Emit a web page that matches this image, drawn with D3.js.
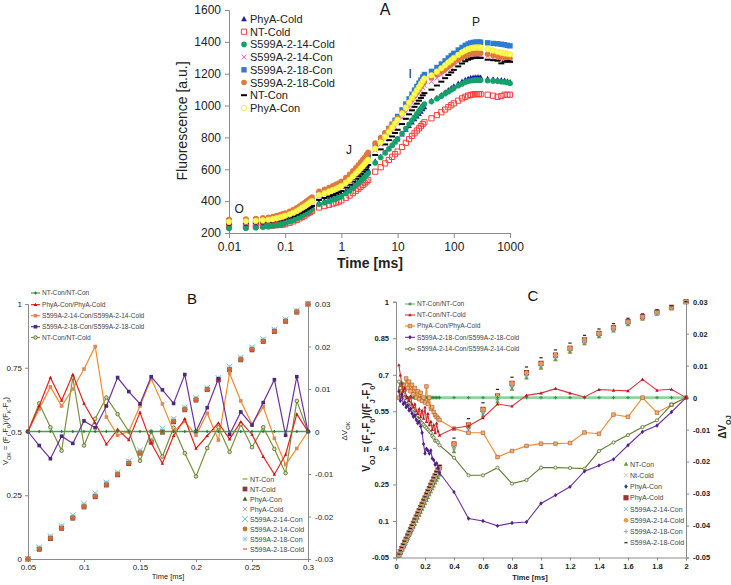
<!DOCTYPE html>
<html><head><meta charset="utf-8">
<script src="https://cdn.jsdelivr.net/npm/d3@7"></script>
<style>body{margin:0;background:#fff} svg{display:block;font-family:"Liberation Sans",Arial,sans-serif}</style>
</head><body><svg id="c" width="731" height="585"></svg>
<script>
// ---------------- Panel A data ----------------
const timeA = [0.01,0.02,0.03,0.04,0.05,0.06,0.07,0.08,0.09,0.1,0.12,0.14,0.16,0.18,0.2,0.22,0.24,0.26,0.28,0.3,0.4,0.5,0.6,0.7,0.8,0.9,1,1.2,1.4,1.6,1.8,2,2.2,2.4,2.6,2.8,3,4,5,6,7,8,9,10,12,14,16,18,20,22,24,26,28,30,40,50,60,70,80,90,100,120,140,160,180,200,220,240,260,280,300,400,500,600,700,800,900,1000];
const fPhyACold = [250,252,254,256,259,262,265,268,271,275,283,292,301,309,318,326,334,341,349,355,392,403,412,420,428,435,444,463,480,499,515,530,544,558,570,583,595,650,681,707,731,752,771,789,820,849,873,895,915,933,949,963,978,990,1030,1049,1067,1083,1098,1110,1122,1138,1151,1162,1169,1174,1176,1178,1178,1178,1177,1168,1165,1162,1160,1158,1152,1148];
const fNTCold = [240,241,242,244,245,247,249,251,253,255,264,273,282,292,301,309,318,326,333,340,360,369,377,384,390,397,405,421,435,451,465,478,490,501,512,523,533,585,613,637,659,678,695,711,740,766,789,809,826,843,857,871,884,895,920,940,958,975,990,1002,1014,1031,1045,1055,1063,1067,1070,1072,1072,1072,1071,1068,1062,1055,1060,1068,1068,1068];
const f14Cold = [228,230,233,236,240,244,248,252,257,262,271,280,290,300,310,318,327,335,343,350,380,390,399,407,414,422,431,449,465,483,499,513,527,540,552,565,576,640,674,703,728,751,772,791,825,856,883,907,928,947,965,981,997,1010,1025,1043,1059,1074,1087,1098,1109,1124,1136,1147,1152,1156,1158,1160,1160,1160,1159,1156,1155,1152,1150,1148,1145,1140];
const f14Con = [265,268,271,274,278,282,287,292,297,303,312,322,331,341,351,360,369,377,385,392,430,442,453,463,471,480,491,513,532,553,573,590,606,622,636,651,665,720,757,789,818,842,865,886,924,958,988,1015,1038,1059,1078,1096,1113,1128,1150,1172,1193,1211,1228,1242,1255,1274,1289,1301,1310,1315,1318,1320,1320,1320,1319,1310,1300,1295,1290,1285,1280,1283];
const f18Con = [275,278,281,284,288,292,297,301,306,312,322,332,343,353,364,373,383,392,400,408,445,457,468,478,486,495,506,528,547,568,588,605,621,637,651,667,680,750,790,825,856,883,908,932,973,1010,1042,1071,1097,1120,1141,1160,1179,1195,1215,1239,1261,1281,1299,1314,1328,1349,1365,1378,1387,1393,1396,1398,1398,1398,1398,1394,1390,1388,1385,1382,1378,1375];
const f18Cold = [285,288,291,295,299,304,309,314,320,326,336,347,358,369,380,390,400,409,418,426,462,475,486,496,505,514,525,548,568,590,610,628,645,661,676,692,706,765,800,830,857,880,902,922,958,990,1018,1043,1065,1085,1103,1120,1136,1150,1175,1195,1213,1230,1245,1258,1270,1288,1302,1312,1319,1324,1327,1329,1330,1330,1329,1322,1315,1310,1305,1300,1298,1295];
const fNTCon = [260,262,265,267,270,274,278,281,286,290,298,307,316,324,333,341,349,356,364,370,408,420,429,438,447,455,464,485,503,523,541,557,572,587,600,615,627,690,725,756,783,806,828,848,884,917,945,970,992,1012,1031,1048,1064,1078,1100,1126,1150,1172,1192,1208,1224,1246,1264,1278,1288,1294,1298,1300,1300,1300,1299,1288,1285,1282,1265,1275,1280,1275];
const fPhyACon = [270,273,276,279,283,287,292,297,302,308,317,327,337,348,358,367,376,384,393,400,438,450,460,469,477,485,495,516,534,555,573,589,605,619,633,647,660,730,770,804,835,862,887,910,950,987,1019,1048,1073,1096,1116,1136,1154,1170,1190,1213,1234,1253,1271,1285,1299,1318,1334,1346,1355,1360,1363,1365,1365,1365,1364,1355,1345,1338,1332,1328,1325,1322];
const namesA = ["PhyA-Cold","NT-Cold","S599A-2-14-Cold","S599A-2-14-Con","S599A-2-18-Con","S599A-2-18-Cold","NT-Con","PhyA-Con"];
const ticksAY = [200,400,600,800,1000,1200,1400,1600];
const ticksAX = [0.01,0.1,1,10,100,1000];
const phaseLabels = ["O","J","I","P"];
const phaseAt = [[0.0151,325],[1.37,696],[16.7,1173],[248,1500]];

// ---------------- Panel B data ----------------
const timeB = [0.05,0.06,0.07,0.08,0.09,0.1,0.11,0.12,0.13,0.14,0.15,0.16,0.17,0.18,0.19,0.2,0.21,0.22,0.23,0.24,0.25,0.26,0.27,0.28,0.29,0.3];
const dB_NTNT = [0,0,0,0,0,0,0,0,0,0,0,0,0,0,0,0,0,0,0,0,0,0,0,0,0,0];
const dB_PhyA = [0,0.006,0.0127,0.0073,0.0134,0.0066,0.002,-0.003,0.0005,-0.002,0.0045,-0.0027,-0.0075,-0.001,0.003,-0.004,-0.001,0.002,-0.0018,0.0023,-0.0007,-0.0059,-0.0101,-0.0054,0.0041,0];
const dB_14 = [0,0.0053,0.0105,0.006,0.010,0.0147,0.020,0.0034,-0.0009,0.0,0.006,0.0124,0.0065,0.0,0.0024,-0.0009,0.0043,-0.002,0.0137,0.0072,0.0017,0.0058,-0.0016,-0.0078,-0.004,0];
const dB_18 = [0,-0.0033,-0.0064,-0.0011,-0.0028,0.0025,0.0009,0.006,0.0127,0.0094,0.0065,0.0129,0.0098,0.0066,0.0134,0.0,0.0056,0.0124,-0.0007,0.0046,0.0015,0.0068,0.0122,-0.0009,0.0129,0];
const dB_NTCold = [0,0.0066,0.001,-0.0045,0.0127,-0.0033,0.003,0.008,0.0041,0.0,-0.0069,0.0,-0.0059,0.0009,-0.0051,-0.0106,-0.0039,0.001,-0.0048,0.0017,-0.0037,0.001,-0.0041,-0.0098,0.0072,0];
const namesBLines = ["NT-Con/NT-Con","PhyA-Con/PhyA-Cold","S599A-2-14-Con/S599A-2-14-Cold","S599A-2-18-Con/S599A-2-18-Cold","NT-Con/NT-Cold"];
const vB_NTCon = [0,0.045,0.088,0.128,0.168,0.212,0.252,0.297,0.337,0.381,0.421,0.466,0.503,0.545,0.59,0.63,0.669,0.707,0.747,0.786,0.826,0.858,0.896,0.936,0.971,1];
const vB_NTCold = [0,0.038,0.08,0.12,0.16,0.204,0.244,0.29,0.33,0.374,0.415,0.458,0.497,0.538,0.585,0.623,0.664,0.702,0.742,0.781,0.82,0.853,0.892,0.932,0.968,1];
const vB_PhyACon = [0,0.042,0.085,0.125,0.165,0.21,0.25,0.296,0.335,0.38,0.42,0.465,0.502,0.544,0.59,0.629,0.668,0.707,0.746,0.786,0.826,0.858,0.897,0.937,0.972,1];
const vB_PhyACold = [0,0.041,0.084,0.124,0.164,0.209,0.249,0.295,0.334,0.379,0.419,0.464,0.501,0.543,0.589,0.628,0.667,0.706,0.745,0.785,0.825,0.857,0.896,0.936,0.971,1];
const vB_14Con = [0,0.046,0.09,0.13,0.172,0.217,0.258,0.3,0.34,0.384,0.426,0.47,0.512,0.55,0.595,0.632,0.671,0.71,0.755,0.79,0.83,0.862,0.9,0.94,0.975,1];
const vB_14Cold = [0,0.039,0.081,0.121,0.161,0.205,0.246,0.291,0.331,0.376,0.416,0.46,0.498,0.54,0.586,0.625,0.665,0.703,0.743,0.782,0.822,0.854,0.893,0.933,0.969,1];
const vB_18Con = [0,0.044,0.087,0.127,0.167,0.211,0.251,0.298,0.336,0.382,0.423,0.467,0.505,0.546,0.592,0.631,0.67,0.709,0.75,0.788,0.828,0.86,0.898,0.938,0.973,1];
const vB_18Cold = [0,0.036,0.078,0.118,0.158,0.202,0.242,0.288,0.328,0.372,0.412,0.456,0.495,0.536,0.582,0.621,0.662,0.7,0.74,0.779,0.818,0.851,0.889,0.929,0.965,0.997];
const namesBPts = ["NT-Con","NT-Cold","PhyA-Con","PhyA-Cold","S599A-2-14-Con","S599A-2-14-Cold","S599A-2-18-Con","S599A-2-18-Cold"];
const ticksBL = [0,0.25,0.5,0.75,1];
const ticksBR = [-0.03,-0.02,-0.01,0,0.01,0.02,0.03];
const ticksBX = [0.05,0.1,0.15,0.2,0.25,0.3];

// ---------------- Panel C data ----------------
const timeC = [0.02,0.03,0.04,0.05,0.06,0.07,0.08,0.09,0.1,0.11,0.12,0.13,0.14,0.15,0.16,0.17,0.18,0.19,0.2,0.21,0.22,0.23,0.24,0.25,0.26,0.27,0.28,0.29,0.3,0.4,0.5,0.6,0.7,0.8,0.9,1.0,1.1,1.2,1.3,1.4,1.5,1.6,1.7,1.8,1.9,2.0];
const dC_NTNT = [0,0,0,0,0,0,0,0,0,0,0,0,0,0,0,0,0,0,0,0,0,0,0,0,0,0,0,0,0,0,0,0,0,0,0,0,0,0,0,0,0,0,0,0,0,0];
const dC_NTCold = [0.0102,0.007,0.0045,0.002,0.003,0.0005,0.0,-0.001,0.0005,-0.002,-0.003,-0.002,-0.004,-0.005,-0.0035,-0.006,-0.004,-0.0065,-0.003,-0.0075,-0.005,-0.0085,-0.0075,-0.01,-0.0085,-0.011,-0.008,-0.0105,-0.0118,-0.0096,-0.0089,-0.0063,-0.002,-0.0027,0.0007,0.0014,0.0028,0.0014,0.0002,0.0025,0.0023,0.0021,0.0057,0.0023,0.0026,0];
const dC_PhyA = [0.0,0.003,0.001,0.004,0.0025,0.006,0.003,0.005,0.002,0.004,0.001,0.003,0.0,0.002,-0.0005,0.0015,-0.001,0.0,-0.0015,0.0035,-0.002,0.0,-0.0035,-0.003,-0.0045,-0.0055,-0.006,-0.0065,-0.007,-0.0097,-0.011,-0.011,-0.0186,-0.0167,-0.0151,-0.0144,-0.0144,-0.0142,-0.0109,-0.0113,-0.0053,-0.006,0,-0.0047,-0.0022,0];
const dC_18 = [0.002,-0.001,0.001,-0.002,-0.0015,-0.003,-0.0025,-0.004,-0.0035,-0.005,-0.006,-0.0055,-0.007,-0.008,-0.0075,-0.009,-0.011,-0.0145,-0.0175,-0.016,-0.0165,-0.0175,-0.0165,-0.019,-0.0195,-0.021,-0.0205,-0.022,-0.0235,-0.0295,-0.0378,-0.0386,-0.0401,-0.0392,-0.0389,-0.0331,-0.0305,-0.0279,-0.023,-0.0212,-0.0193,-0.0149,-0.0107,-0.0087,-0.0045,0];
const dC_14 = [0.005,0.003,0.0045,0.001,0.0,-0.001,-0.002,-0.0015,-0.003,-0.004,-0.0035,-0.005,-0.006,-0.0055,-0.007,-0.0075,-0.008,-0.0085,-0.009,-0.0095,-0.01,-0.0105,-0.011,-0.012,-0.0125,-0.0135,-0.0135,-0.014,-0.0149,-0.0188,-0.0243,-0.0243,-0.0219,-0.0269,-0.0258,-0.0219,-0.0219,-0.022,-0.0222,-0.0167,-0.014,-0.0117,-0.0092,-0.0071,-0.0022,0];
const namesCLines = ["NT-Con/NT-Con","NT-Con/NT-Cold","PhyA-Con/PhyA-Cold","S599A-2-18-Con/S599A-2-18-Cold","S599A-2-14-Con/S599A-2-14-Cold"];
const vC_base = [-0.04,-0.027,-0.014,-0.001,0.012,0.025,0.038,0.051,0.064,0.077,0.09,0.103,0.116,0.129,0.142,0.155,0.168,0.181,0.194,0.207,0.22,0.233,0.246,0.259,0.272,0.285,0.297,0.309,0.321,0.416,0.494,0.558,0.613,0.665,0.709,0.747,0.781,0.809,0.843,0.87,0.893,0.918,0.938,0.957,0.977,1.0];
const vC_NTCon = [-0.043,-0.031,-0.019,-0.007,0.005,0.017,0.029,0.041,0.053,0.065,0.077,0.089,0.101,0.113,0.125,0.137,0.149,0.161,0.173,0.185,0.197,0.209,0.221,0.233,0.245,0.257,0.268,0.279,0.29,0.385,0.466,0.532,0.59,0.642,0.688,0.728,0.763,0.794,0.829,0.857,0.881,0.907,0.929,0.95,0.971,0.998];
const vC_18Cold = [-0.036,-0.022,-0.009,0.004,0.017,0.03,0.043,0.056,0.069,0.082,0.095,0.108,0.121,0.134,0.147,0.16,0.173,0.186,0.199,0.212,0.225,0.238,0.251,0.264,0.277,0.29,0.302,0.314,0.327,0.44,0.52,0.585,0.64,0.69,0.732,0.77,0.802,0.83,0.862,0.888,0.91,0.932,0.95,0.967,0.983,1.0];
const vC_18Con = [-0.042,-0.029,-0.016,-0.003,0.009,0.022,0.035,0.048,0.061,0.074,0.087,0.1,0.113,0.126,0.139,0.151,0.164,0.177,0.19,0.203,0.216,0.229,0.242,0.254,0.267,0.28,0.292,0.304,0.316,0.4,0.48,0.545,0.6,0.652,0.698,0.737,0.772,0.801,0.836,0.864,0.888,0.913,0.934,0.954,0.975,0.999];
const namesCPts = ["NT-Con","Nt-Cold","PhyA-Con","PhyA-Cold","S599A-2-14-Con","S599A-2-14-Cold","S599A-2-18-Con","S599A-2-18-Cold"];
const ticksCL = [-0.05,0.1,0.25,0.4,0.55,0.7,0.85,1];
const ticksCR = [-0.05,-0.04,-0.03,-0.02,-0.01,0,0.01,0.02,0.03];
const ticksCX = [0,0.2,0.4,0.6,0.8,1,1.2,1.4,1.6,1.8,2];

// ---------------- helpers ----------------
const svg = d3.select('#c');
function symPath(type, s){
  switch(type){
    case 'square': return `M${-s},${-s}h${2*s}v${2*s}h${-2*s}Z`;
    case 'circle': return d3.symbol(d3.symbolCircle, Math.PI*s*s)();
    case 'triangle': return `M0,${-s*1.15}L${s*1.1},${s*0.85}L${-s*1.1},${s*0.85}Z`;
    case 'diamond': return `M0,${-s*1.3}L${s},0L0,${s*1.3}L${-s},0Z`;
    case 'x': return `M${-s},${-s}L${s},${s}M${-s},${s}L${s},${-s}`;
    case 'plus': return `M${-s},0H${s}M0,${-s}V${s}`;
    case 'star': return `M${-s},${-s}L${s},${s}M${-s},${s}L${s},${-s}M${-s*1.2},0H${s*1.2}M0,${-s*1.2}V${s*1.2}`;
    case 'dash': return `M${-s},0H${s}`;
  }
}
const strokeOnly = t => ['x','plus','star','dash'].includes(t);
function drawPts(g, xs, ys, xsc, ysc, st){
  g.append('g').selectAll('path').data(xs.map((x,i)=>[x,ys[i]])).join('path')
    .attr('transform', d=>`translate(${xsc(d[0])},${ysc(d[1])})`)
    .attr('d', symPath(st.type, st.size))
    .attr('fill', strokeOnly(st.type)? 'none' : (st.fill||st.color))
    .attr('stroke', strokeOnly(st.type)? st.color : (st.stroke||'none'))
    .attr('stroke-width', st.sw || 1);
}
function legendMark(g, x, y, st){
  g.append('path').attr('transform',`translate(${x},${y})`).attr('d', symPath(st.type, st.size))
    .attr('fill', strokeOnly(st.type)? 'none' : (st.fill||st.color))
    .attr('stroke', strokeOnly(st.type)? st.color : (st.stroke||'none'))
    .attr('stroke-width', st.sw || 1);
}
const fmt = d => String(+(+d).toFixed(3));
function styleAxis(sel, fs, weight){
  sel.select('.domain').attr('stroke','#8a8a8a');
  sel.selectAll('.tick line').attr('stroke','#8a8a8a');
  sel.selectAll('.tick text').attr('font-size',fs).attr('fill','#222').attr('font-weight',weight||'normal')
    .attr('font-family','"Liberation Sans",Arial,sans-serif');
}
function subText(g, x, y, parts, fs, weight, rotate){
  const t = g.append('text').attr('transform',`translate(${x},${y})${rotate?' rotate(-90)':''}`)
    .attr('text-anchor','middle').attr('font-size',fs).attr('font-weight',weight||'normal').attr('fill','#222');
  parts.forEach(p=>{
    if(typeof p === 'string') t.append('tspan').text(p);
    else t.append('tspan').attr('baseline-shift','sub').attr('font-size',fs*0.72).text(p.sub);
  });
  return t;
}

// ---------------- Panel A ----------------
{
  const g = svg.append('g');
  const x = d3.scaleLog().domain([0.01,1000]).range([229,510]);
  const y = d3.scaleLinear().domain([200,1600]).range([233,10]);
  g.append('g').attr('transform','translate(229,0)')
    .call(d3.axisLeft(y).tickValues(ticksAY).tickSize(4).tickPadding(4).tickFormat(fmt))
    .call(s=>styleAxis(s,12));
  g.append('g').attr('transform','translate(0,233)')
    .call(d3.axisBottom(x).tickValues(ticksAX).tickSize(5).tickPadding(4).tickFormat(fmt))
    .call(s=>styleAxis(s,12));
  const seriesA = [
    {v:fPhyACold, st:{type:'triangle', size:2.6, color:'#1c1c9c'}},
    {v:fNTCold, st:{type:'square', size:2.6, fill:'none', stroke:'#ff3b3b', sw:1}},
    {v:f14Cold, st:{type:'circle', size:2.8, color:'#16a06a'}},
    {v:f14Con, st:{type:'x', size:2.4, color:'#ff5ccd', sw:1}},
    {v:f18Con, st:{type:'square', size:2.7, color:'#2f7bd3'}},
    {v:f18Cold, st:{type:'circle', size:2.8, color:'#e07a3a'}},
    {v:fNTCon, st:{type:'dash', size:3, color:'#000', sw:2}},
    {v:fPhyACon, st:{type:'circle', size:2.8, fill:'#ffff50', stroke:'#efe63a', sw:0.7}}
  ];
  seriesA.forEach(s=>drawPts(g, timeA, s.v, x, y, s.st));
  seriesA.forEach((s,i)=>{
    const ly = 19 + i*12.7;
    const lst = Object.assign({}, s.st);
    if(i===7){ lst.fill='none'; lst.stroke='#f2ec55'; lst.sw=1; }
    legendMark(g, 244, ly, lst);
    g.append('text').attr('x',250).attr('y',ly+4).attr('font-size',11).attr('fill','#222').text(namesA[i]);
  });
  phaseLabels.forEach((l,i)=>g.append('text').attr('x',x(phaseAt[i][0])).attr('y',y(phaseAt[i][1]))
    .attr('text-anchor','middle').attr('font-size',12).attr('fill','#222').text(l));
  g.append('text').attr('transform','translate(187,121) rotate(-90)').attr('text-anchor','middle')
    .attr('font-size',14).attr('fill','#222').text('Fluorescence [a.u.]');
  g.append('text').attr('x',370).attr('y',268).attr('text-anchor','middle').attr('font-size',14)
    .attr('font-weight','bold').attr('fill','#222').text('Time [ms]');
  g.append('text').attr('x',385).attr('y',15).attr('text-anchor','middle').attr('font-size',16).attr('fill','#111').text('A');
}

// ---------------- Panel B ----------------
{
  const g = svg.append('g');
  const x = d3.scaleLinear().domain([0.05,0.3]).range([28,308]);
  const yL = d3.scaleLinear().domain([0,1]).range([559,304]);
  const yR = d3.scaleLinear().domain([-0.03,0.03]).range([559,304]);
  g.append('g').attr('transform','translate(28,0)')
    .call(d3.axisLeft(yL).tickValues(ticksBL).tickSize(3).tickPadding(3).tickFormat(fmt)).call(s=>styleAxis(s,8));
  g.append('g').attr('transform','translate(308,0)')
    .call(d3.axisRight(yR).tickValues(ticksBR).tickSize(3).tickPadding(4).tickFormat(fmt)).call(s=>styleAxis(s,8));
  g.append('g').attr('transform','translate(0,559)')
    .call(d3.axisBottom(x).tickValues(ticksBX).tickSize(3).tickPadding(2).tickFormat(fmt)).call(s=>styleAxis(s,8));
  const pts = [
    {v:vB_NTCon, st:{type:'dash', size:2.5, color:'#9bbb59', sw:1.5}},
    {v:vB_PhyACon, st:{type:'triangle', size:2.2, color:'#4f6228'}},
    {v:vB_PhyACold, st:{type:'x', size:2.2, color:'#9a9a9a', sw:0.8}},
    {v:vB_14Con, st:{type:'x', size:2.8, color:'#70c8d8', sw:1}},
    {v:vB_18Con, st:{type:'star', size:2.2, color:'#9dc3e6', sw:0.8}},
    {v:vB_NTCold, st:{type:'square', size:2.4, color:'#8b3a3a'}},
    {v:vB_14Cold, st:{type:'circle', size:2.4, color:'#c0793a'}},
    {v:vB_18Cold, st:{type:'dash', size:2, color:'#e0553a', sw:1.2}}
  ];
  pts.forEach(p=>drawPts(g, timeB, p.v, x, yL, p.st));
  const legOrder = [0,5,1,2,3,6,4,7];
  legOrder.forEach((idx,i)=>{
    const ly = 479 + i*10;
    legendMark(g, 245, ly, pts[idx].st);
    g.append('text').attr('x',250).attr('y',ly+2.5).attr('font-size',7).attr('fill','#444').text(namesBPts[i]);
  });
  const lines = [
    {v:dB_NTNT, color:'#3aa845', w:1.6, st:{type:'diamond', size:1.4, color:'#2d7a34'}},
    {v:dB_PhyA, color:'#e8201f', w:1.2, st:{type:'triangle', size:1.6, color:'#c0161a'}},
    {v:dB_14, color:'#f28a2a', w:1.2, st:{type:'square', size:1.8, color:'#d98c5a'}},
    {v:dB_18, color:'#7030a0', w:1.2, st:{type:'square', size:1.8, color:'#4b2a7b'}},
    {v:dB_NTCold, color:'#77933c', w:1.2, st:{type:'circle', size:1.8, fill:'#cfe0a8', stroke:'#4f6228', sw:0.8}}
  ];
  [4,2,1,3,0].forEach(i=>{
    const l = lines[i];
    g.append('path').datum(timeB.map((t,k)=>[t,l.v[k]]))
      .attr('d', d3.line().x(d=>x(d[0])).y(d=>yR(d[1])))
      .attr('fill','none').attr('stroke',l.color).attr('stroke-width',l.w);
    drawPts(g, timeB, l.v, x, yR, l.st);
  });
  lines.forEach((l,i)=>{
    const ly = [293,304.7,315.7,326.7,337.5][i];
    g.append('line').attr('x1',31).attr('x2',40).attr('y1',ly).attr('y2',ly).attr('stroke',l.color).attr('stroke-width',1.2);
    legendMark(g, 35.5, ly, l.st);
    g.append('text').attr('x',42).attr('y',ly+2.3).attr('font-size',6.6).attr('fill','#444').text(namesBLines[i]);
  });
  subText(g, 8, 431, ['V',{sub:'OK'},' = (F',{sub:'t'},'-F',{sub:'0'},')/(F',{sub:'K'},'-F',{sub:'0'},')'], 7.5, 'normal', true);
  subText(g, 347, 431, ['ΔV',{sub:'OK'}], 8, 'normal', true);
  g.append('text').attr('x',168).attr('y',579).attr('text-anchor','middle').attr('font-size',7.5).attr('fill','#222').text('Time [ms]');
  g.append('text').attr('x',192).attr('y',304).attr('text-anchor','middle').attr('font-size',15).attr('fill','#111').text('B');
}

// ---------------- Panel C ----------------
{
  const g = svg.append('g');
  const x = d3.scaleLinear().domain([0,2]).range([396,686]);
  const yL = d3.scaleLinear().domain([-0.05,1]).range([557.5,301.7]);
  const yR = d3.scaleLinear().domain([-0.05,0.03]).range([557.5,301.7]);
  g.append('g').attr('transform','translate(396,0)')
    .call(d3.axisLeft(yL).tickValues(ticksCL).tickSize(3).tickPadding(4).tickFormat(fmt)).call(s=>styleAxis(s,7.5,'bold'));
  g.append('g').attr('transform','translate(686,0)')
    .call(d3.axisRight(yR).tickValues(ticksCR).tickSize(3).tickPadding(4).tickFormat(fmt)).call(s=>styleAxis(s,7.5,'bold'));
  g.append('g').attr('transform','translate(0,557.5)')
    .call(d3.axisBottom(x).tickValues(ticksCX).tickSize(3).tickPadding(3).tickFormat(fmt)).call(s=>styleAxis(s,7.5,'bold'));
  const pts = [
    {v:vC_NTCon, st:{type:'triangle', size:2.1, color:'#77933c'}},
    {v:vC_base, st:{type:'x', size:2, color:'#bdbdbd', sw:0.8}},
    {v:vC_18Con, st:{type:'diamond', size:1.8, color:'#1f3f7f'}},
    {v:vC_base, st:{type:'square', size:2.6, color:'#953735'}},
    {v:vC_18Con, st:{type:'x', size:2.2, color:'#8fd0e0', sw:1}},
    {v:vC_base, st:{type:'circle', size:2.2, color:'#f79646'}},
    {v:vC_18Con, st:{type:'plus', size:2.2, color:'#9aa88a', sw:0.9}},
    {v:vC_18Cold, st:{type:'dash', size:1.6, color:'#222', sw:1.2}}
  ];
  pts.forEach(p=>drawPts(g, timeC, p.v, x, yL, p.st));
  pts.forEach((p,i)=>{
    const ly = 464 + i*11.25;
    legendMark(g, 626, ly, p.st);
    g.append('text').attr('x',630).attr('y',ly+2.6).attr('font-size',7).attr('fill','#444').text(namesCPts[i]);
  });
  const lines = [
    {v:dC_NTNT, color:'#8fd49a', w:2.6, st:{type:'plus', size:1.8, color:'#2d8a3e', sw:0.9}},
    {v:dC_NTCold, color:'#e0323a', w:1.1, st:{type:'triangle', size:1.6, color:'#b01c24'}},
    {v:dC_PhyA, color:'#f08a2a', w:1.1, st:{type:'square', size:1.8, fill:'#f5b070', stroke:'#a0582a', sw:0.6}},
    {v:dC_18, color:'#7030a0', w:1.1, st:{type:'diamond', size:1.7, color:'#50208a'}},
    {v:dC_14, color:'#5b7a2e', w:1.1, st:{type:'circle', size:1.6, fill:'#e8f0d8', stroke:'#4f6228', sw:0.7}}
  ];
  [0,2,4,3,1].forEach(i=>{
    const l = lines[i];
    g.append('path').datum(timeC.map((t,k)=>[t,l.v[k]]))
      .attr('d', d3.line().x(d=>x(d[0])).y(d=>yR(d[1])))
      .attr('fill','none').attr('stroke',l.color).attr('stroke-width',l.w);
    drawPts(g, timeC, l.v, x, yR, l.st);
  });
  lines.forEach((l,i)=>{
    const ly = [304,315,326,337.3,349][i];
    g.append('line').attr('x1',405).attr('x2',415).attr('y1',ly).attr('y2',ly).attr('stroke',l.color).attr('stroke-width',Math.min(l.w,1.6));
    legendMark(g, 410, ly, l.st);
    g.append('text').attr('x',417).attr('y',ly+2.3).attr('font-size',6.6).attr('fill','#444').text(namesCLines[i]);
  });
  subText(g, 370, 427, ['V',{sub:'OJ'},' = (F',{sub:'t'},'-F',{sub:'0'},')/(F',{sub:'J'},'-F',{sub:'0'},')'], 10, 'bold', true);
  subText(g, 726, 427, ['ΔV',{sub:'OJ'}], 10, 'bold', true);
  g.append('text').attr('x',530).attr('y',580).attr('text-anchor','middle').attr('font-size',7.5).attr('font-weight','bold').attr('fill','#222').text('Time [ms]');
  g.append('text').attr('x',533).attr('y',301).attr('text-anchor','middle').attr('font-size',15).attr('fill','#111').text('C');
}
</script></body></html>
